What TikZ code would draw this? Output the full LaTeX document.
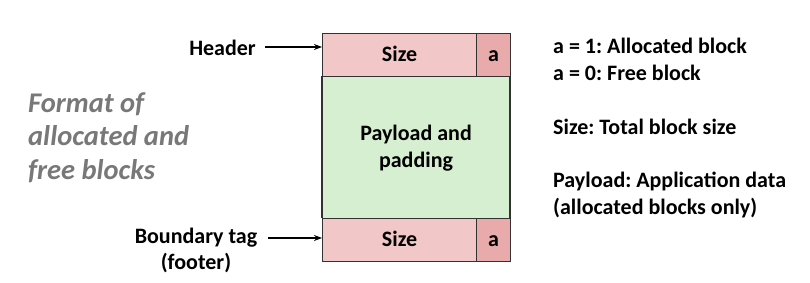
\documentclass[tikz,border=0pt]{standalone}
\usepackage{fontspec}
\setmainfont{Carlito}
\frenchspacing
\usetikzlibrary{arrows.meta}
\definecolor{hdrpink}{RGB}{242,199,199}
\definecolor{apink}{RGB}{232,170,170}
\definecolor{paygreen}{RGB}{214,239,208}
\definecolor{edge}{RGB}{50,50,50}
\definecolor{titlegray}{RGB}{120,120,120}
\tikzset{
  cell/.style={draw=edge, line width=1.2pt},
  lbl/.style={font=\fontsize{22}{24}\selectfont\bfseries\frenchspacing, inner sep=0pt, text height=15pt, text depth=4.5pt},
  ttl/.style={font=\fontsize{28.5}{30}\selectfont\bfseries\itshape, text=titlegray, inner sep=0pt, anchor=west, text height=19.5pt, text depth=6pt},
  ptr/.style={-{Stealth[length=8pt,width=6pt]}, line width=1.4pt}
}
\begin{document}
\begin{tikzpicture}[x=1pt,y=-1pt]
\useasboundingbox (0,0) rectangle (810,283);
% block
\path[fill=paygreen] (322,76) rectangle (510,218);
\node[cell, fill=hdrpink, minimum width=154pt, minimum height=43pt, anchor=north west, inner sep=0pt] (hsize) at (322,33) {};
\node[cell, fill=apink, minimum width=34pt, minimum height=43pt, anchor=north west, inner sep=0pt] (ha) at (476,33) {};
\node[cell, fill=hdrpink, minimum width=154pt, minimum height=43pt, anchor=north west, inner sep=0pt] (fsize) at (322,218) {};
\node[cell, fill=apink, minimum width=34pt, minimum height=43pt, anchor=north west, inner sep=0pt] (fa) at (476,218) {};
\draw[cell] (322,76) -- (322,218) (510,76) -- (510,218);
\node[lbl] (hsizet) at ([yshift=-1.5pt]hsize.center) {Size};
\node[lbl] (hat) at ([yshift=-1.5pt]ha.center) {a};
\node[lbl] (fsizet) at ([yshift=-1.5pt]fsize.center) {Size};
\node[lbl] (fat) at ([yshift=-1.5pt]fa.center) {a};
\node[lbl] (pay1) at (416,135) {Payload and};
\node[lbl] (pay2) at (416,162) {padding};
% left labels
\node[lbl, anchor=east] (hdr) at (256,50) {Header};
\coordinate (hdrtip) at (322,47);
\draw[ptr] (265,47) -- (hdrtip);
\node[lbl] (btag) at (196,238) {Boundary tag};
\node[lbl] (foot) at (196,264) {(footer)};
\coordinate (ftip) at (322,238);
\draw[ptr] (268,238) -- (ftip);
% title
\node[ttl] (t1) at (28,105.5) {Format of};
\node[ttl] (t2) at (28,138.5) {allocated and};
\node[ttl] (t3) at (28,172.5) {free blocks};
% legend
\node[lbl, anchor=west] (l1) at (553,48) {a = 1: Allocated block};
\node[lbl, anchor=west] (l2) at (553,75) {a = 0: Free block};
\node[lbl, anchor=west] (l3) at (553,129) {Size: Total block size};
\node[lbl, anchor=west] (l4) at (553,182) {Payload: Application data};
\node[lbl, anchor=west] (l5) at (553,209) {(allocated blocks only)};
\end{tikzpicture}
\end{document}
